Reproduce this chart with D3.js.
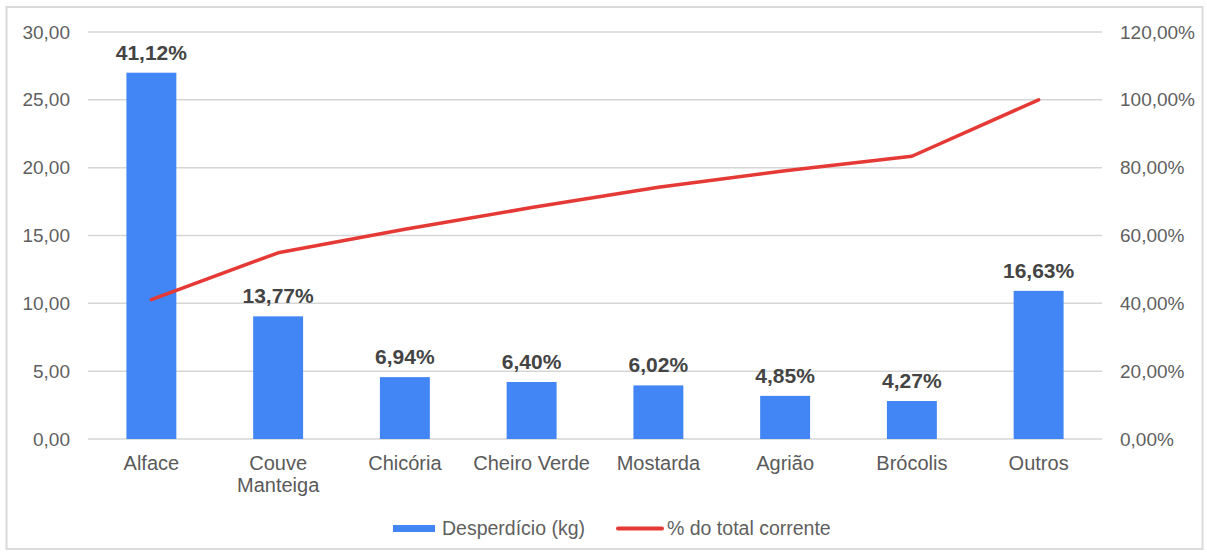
<!DOCTYPE html>
<html>
<head>
<meta charset="utf-8">
<script src="https://cdn.jsdelivr.net/npm/d3@7"></script>
<style>
  html, body { margin: 0; padding: 0; background: #fff; }
  svg { display: block; font-family: Arial, "Liberation Sans", sans-serif; }
</style>
</head>
<body>
<svg id="chart" width="1207" height="554"></svg>
<script>
// ---- data ----
const categories = ["Alface", "Couve Manteiga", "Chicória", "Cheiro Verde", "Mostarda", "Agrião", "Brócolis", "Outros"];
const wasteKg = [27.00, 9.04, 4.56, 4.20, 3.95, 3.18, 2.80, 10.92];
const shareLabels = ["41,12%", "13,77%", "6,94%", "6,40%", "6,02%", "4,85%", "4,27%", "16,63%"];
const cumulativePct = [0.4112, 0.5489, 0.6183, 0.6823, 0.7425, 0.7910, 0.8337, 1.0000];
const leftTicks = [0, 5, 10, 15, 20, 25, 30];
const rightTicks = [0, 0.2, 0.4, 0.6, 0.8, 1.0, 1.2];
const seriesNames = ["Desperdício (kg)", "% do total corrente"];

// ---- layout ----
const svg = d3.select("#chart");
const plot = { left: 88, right: 1102, top: 32, bottom: 439 };
const blue = "#4285f4", red = "#e53935";

svg.append("rect").attr("x", 6.5).attr("y", 7).attr("width", 1196).attr("height", 542)
  .attr("fill", "#fff").attr("stroke", "#dadada").attr("stroke-width", 2);

const x = d3.scaleBand().domain(categories).range([plot.left, plot.right])
  .paddingInner(0.606).paddingOuter(0.303);
const yL = d3.scaleLinear().domain([0, 30]).range([plot.bottom, plot.top]);
const yR = d3.scaleLinear().domain([0, 1.2]).range([plot.bottom, plot.top]);

const fmtNum = v => d3.format(".2f")(v).replace(".", ",");
const fmtPct = v => d3.format(".2f")(v * 100).replace(".", ",") + "%";

// gridlines
svg.append("g").selectAll("line").data(leftTicks).join("line")
  .attr("x1", plot.left).attr("x2", plot.right)
  .attr("y1", d => yL(d)).attr("y2", d => yL(d))
  .attr("stroke", "#d6d6d6").attr("stroke-width", 1.5);

// left axis
const gL = svg.append("g").attr("transform", `translate(${plot.left - 18},0)`)
  .call(d3.axisLeft(yL).tickValues(leftTicks).tickFormat(fmtNum).tickSize(0).tickPadding(0));
gL.select(".domain").remove();
gL.selectAll("text").attr("fill", "#5f5f5f").style("font-size", "19px").style("font-family", "Arial, 'Liberation Sans', sans-serif");

// right axis
const gR = svg.append("g").attr("transform", `translate(${plot.right + 18},0)`)
  .call(d3.axisRight(yR).tickValues(rightTicks).tickFormat(fmtPct).tickSize(0).tickPadding(0));
gR.select(".domain").remove();
gR.selectAll("text").attr("fill", "#5f5f5f").style("font-size", "19px").style("font-family", "Arial, 'Liberation Sans', sans-serif");

// bars
svg.append("g").selectAll("rect").data(categories).join("rect")
  .attr("x", d => x(d)).attr("width", x.bandwidth())
  .attr("y", (d, i) => yL(wasteKg[i]))
  .attr("height", (d, i) => yL(0) - yL(wasteKg[i]))
  .attr("fill", blue);

// bar labels
svg.append("g").selectAll("text").data(categories).join("text")
  .attr("x", d => x(d) + x.bandwidth() / 2)
  .attr("y", (d, i) => yL(wasteKg[i]) - 13)
  .attr("text-anchor", "middle")
  .attr("fill", "#444").style("font-size", "21px").style("font-weight", "bold")
  .text((d, i) => shareLabels[i]);

// x-axis category labels
const xl = svg.append("g").selectAll("text").data(categories).join("text")
  .attr("x", d => x(d) + x.bandwidth() / 2)
  .attr("y", 470)
  .attr("text-anchor", "middle")
  .attr("fill", "#5a5a5a").style("font-size", "20px");
xl.each(function(d) {
  const words = d === "Couve Manteiga" ? ["Couve", "Manteiga"] : [d];
  const t = d3.select(this);
  words.forEach((w, k) => {
    t.append("tspan").attr("x", x(d) + x.bandwidth() / 2).attr("dy", k === 0 ? 0 : 22).text(w);
  });
});

// cumulative line
const line = d3.line()
  .x((d, i) => x(categories[i]) + x.bandwidth() / 2)
  .y(d => yR(d));
svg.append("path").datum(cumulativePct)
  .attr("d", line).attr("fill", "none")
  .attr("stroke", red).attr("stroke-width", 3.5)
  .attr("stroke-linejoin", "round").attr("stroke-linecap", "round");

// legend
const lg = svg.append("g");
lg.append("rect").attr("x", 393).attr("y", 525).attr("width", 42).attr("height", 7).attr("fill", blue);
lg.append("text").attr("x", 442).attr("y", 535).attr("fill", "#5f5f5f").style("font-size", "19.5px").text(seriesNames[0]);
lg.append("line").attr("x1", 618).attr("x2", 662).attr("y1", 528.5).attr("y2", 528.5)
  .attr("stroke", red).attr("stroke-width", 4).attr("stroke-linecap", "round");
lg.append("text").attr("x", 667).attr("y", 535).attr("fill", "#5f5f5f").style("font-size", "19.5px").text(seriesNames[1]);
</script>
</body>
</html>
